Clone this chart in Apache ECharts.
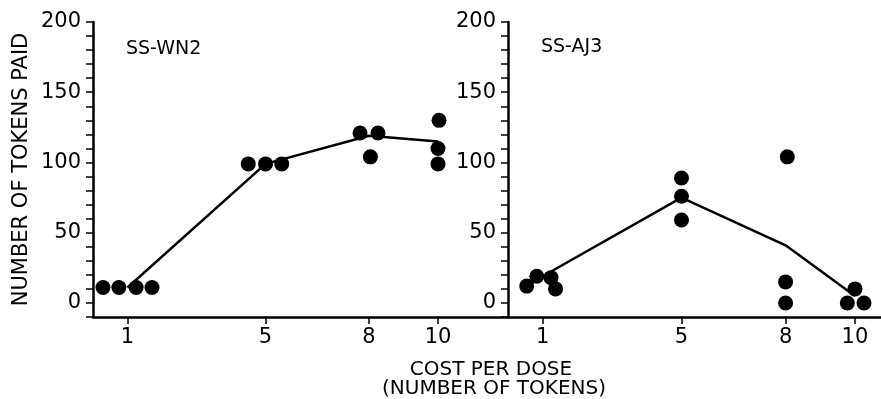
<!DOCTYPE html>
<html>
<head>
<meta charset="utf-8">
<script src="https://cdn.jsdelivr.net/npm/echarts@6/dist/echarts.min.js"></script>
<style>
html,body{margin:0;padding:0;background:#fff}
#chart{width:881px;height:399px}
</style>
</head>
<body>
<div id="chart"></div>
<script>
// tick positions on the cost axis
var costTicks = [1, 5, 8, 10]

// SS-WN2: individual sessions (jittered around each cost) and mean line
var wn2Dots = [
    [0.29, 11], [0.75, 11], [1.25, 11], [1.71, 11],
    [4.5, 99], [5.0, 99], [5.47, 99],
    [7.74, 121], [8.26, 121], [8.04, 104],
    [10.03, 130], [10.0, 110], [10.0, 99]
]
var wn2Line = [[1, 11], [5, 99], [8, 119], [10, 115]]

// SS-AJ3
var aj3Dots = [
    [0.54, 12], [0.83, 19], [1.24, 18], [1.37, 10],
    [5.0, 89], [5.0, 76], [5.0, 59],
    [8.05, 104], [8.0, 15], [8.0, 0],
    [10.0, 10], [9.78, 0], [10.26, 0]
]
var aj3Line = [[1, 19], [5, 75], [8, 41], [10, 5]]

var FONT = 'DejaVu Sans'
var chart = echarts.init(document.getElementById('chart'))

function yAxisOpt(idx, withName){
    var ax = {
        type: 'value',
        gridIndex: idx,
        min: -10,
        max: 200,
        interval: 10,
        splitLine: {show: false},
        axisLine: {show: true, lineStyle: {color: '#000', width: 2.5}},
        axisTick: {show: true, inside: false, length: 7, lineStyle: {color: '#000', width: 1.5}},
        axisLabel: {
            margin: 12,
            color: '#000',
            fontFamily: FONT,
            fontSize: 21,
            formatter: function(v){
                return (v >= 0 && v % 50 === 0) ? v : ''
            }
        }
    }
    if(withName){
        ax.name = 'NUMBER OF TOKENS PAID'
        ax.nameLocation = 'middle'
        ax.nameRotate = 90
        ax.nameGap = 61
        ax.nameTextStyle = {color: '#000', fontFamily: FONT, fontSize: 21}
    }
    return ax
}

function xAxisOpt(idx, max){
    return {
        type: 'value',
        gridIndex: idx,
        min: 0,
        max: max,
        splitLine: {show: false},
        axisLine: {show: true, onZero: false, lineStyle: {color: '#000', width: 2.5}},
        axisTick: {show: true, length: 7, customValues: costTicks, lineStyle: {color: '#000', width: 1.5}},
        axisLabel: {
            margin: 10,
            color: '#000',
            fontFamily: FONT,
            fontSize: 21,
            customValues: costTicks
        }
    }
}

var option = {
    backgroundColor: '#fff',
    animation: false,
    title: [
        {text: 'SS-WN2', left: 121, top: 35, textStyle: {color: '#000', fontFamily: FONT, fontSize: 19, fontWeight: 'normal'}},
        {text: 'SS-AJ3', left: 536, top: 33, textStyle: {color: '#000', fontFamily: FONT, fontSize: 19, fontWeight: 'normal'}}
    ],
    grid: [
        {left: 93, top: 22, width: 414, height: 295},
        {left: 508, top: 22, width: 373, height: 295}
    ],
    xAxis: [xAxisOpt(0, 12), xAxisOpt(1, 10.75)],
    yAxis: [yAxisOpt(0, true), yAxisOpt(1, false)],
    graphic: [
        {type: 'text', x: 491, y: 370, style: {text: 'COST PER DOSE', textAlign: 'center', textVerticalAlign: 'middle', fill: '#000', font: '20px "DejaVu Sans"'}},
        {type: 'text', x: 494, y: 389, style: {text: '(NUMBER OF TOKENS)', textAlign: 'center', textVerticalAlign: 'middle', fill: '#000', font: '20px "DejaVu Sans"'}}
    ],
    series: [
        {type: 'line', xAxisIndex: 0, yAxisIndex: 0, data: wn2Line, symbol: 'none', lineStyle: {color: '#000', width: 2.5}, z: 2},
        {type: 'scatter', xAxisIndex: 0, yAxisIndex: 0, data: wn2Dots, symbolSize: 15, itemStyle: {color: '#000', opacity: 1}, z: 3},
        {type: 'line', xAxisIndex: 1, yAxisIndex: 1, data: aj3Line, symbol: 'none', lineStyle: {color: '#000', width: 2.5}, z: 2},
        {type: 'scatter', xAxisIndex: 1, yAxisIndex: 1, data: aj3Dots, symbolSize: 15, itemStyle: {color: '#000', opacity: 1}, z: 3}
    ]
}
chart.setOption(option)
</script>
</body>
</html>
